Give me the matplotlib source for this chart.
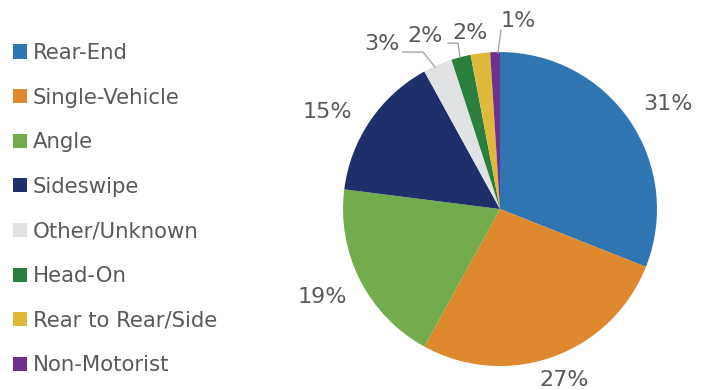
import matplotlib.pyplot as plt
import numpy as np
from matplotlib.patches import Patch

categories = ["Rear-End", "Single-Vehicle", "Angle", "Sideswipe",
              "Other/Unknown", "Head-On", "Rear to Rear/Side", "Non-Motorist"]
shares = [31, 27, 19, 15, 3, 2, 2, 1]
pct_labels = ["31%", "27%", "19%", "15%", "3%", "2%", "2%", "1%"]
colors = ["#2E75B2", "#DE892E", "#73AC4D", "#1F2F6B",
          "#E1E2E4", "#2A7E3E", "#E0B93A", "#70308E"]

# label placement (data units, pie radius = 1)
label_xy = [(1.07, 0.67), (0.41, -1.09), (-1.13, -0.56), (-1.10, 0.62),
            (-0.75, 1.05), (-0.48, 1.10), (-0.19, 1.12), (0.115, 1.20)]
# leader lines for the small slices
leaders = {4: [(-0.414, 0.904), (-0.49, 1.0), (-0.62, 1.0)],
           5: [(-0.255, 0.968), (-0.268, 1.057), (-0.33, 1.057)],
           7: [(-0.013, 0.994), (0.006, 1.14)]}

TXT = "#595959"
FS = 15.3

fig = plt.figure(figsize=(7.09, 3.9), dpi=100)
ax = fig.add_axes([0.4837, 0.0615, 0.443, 0.805])

wedges, _ = ax.pie(shares, colors=colors, startangle=90, counterclock=False,
                   radius=1, wedgeprops=dict(linewidth=0))
ax.set_xlim(-1, 1)
ax.set_ylim(-1, 1)
ax.set_aspect("equal")
ax.axis("off")

for i, (lab, (x, y)) in enumerate(zip(pct_labels, label_xy)):
    ax.text(x, y, lab, ha="center", va="center", fontsize=16, color=TXT, clip_on=False)

for i, pts in leaders.items():
    xs, ys = zip(*pts)
    ax.plot(xs, ys, color="#A6A6A6", lw=1, clip_on=False)

handles = [Patch(facecolor=c, edgecolor="none") for c in colors]
fig.legend(handles, categories, loc="upper left", bbox_to_anchor=(0.018, 0.89),
           frameon=False, fontsize=FS, labelcolor=TXT, borderpad=0, borderaxespad=0,
           handlelength=0.65, handleheight=0.65, handletextpad=0.3, labelspacing=1.16)

fig.savefig("out.png", dpi=100)
